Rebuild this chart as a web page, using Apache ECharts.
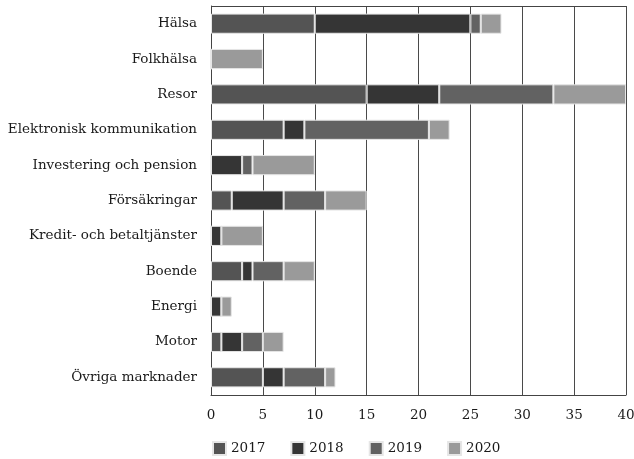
<!DOCTYPE html>
<html>
<head>
<meta charset="utf-8">
<script src="https://cdn.jsdelivr.net/npm/echarts@6/dist/echarts.min.js"></script>
<style>html,body{margin:0;padding:0;background:#fff}#c{width:634px;height:459px}</style>
</head>
<body>
<div id="c"></div>
<script>
const categories = ["Hälsa","Folkhälsa","Resor","Elektronisk kommunikation","Investering och pension","Försäkringar","Kredit- och betaltjänster","Boende","Energi","Motor","Övriga marknader"];
const years = ["2017","2018","2019","2020"];
const v2017 = [10,0,15,7,0,2,0,3,0,1,5];
const v2018 = [15,0,7,2,3,5,1,1,1,2,2];
const v2019 = [1,0,11,12,1,4,0,3,0,2,4];
const v2020 = [2,5,7,2,6,4,4,3,1,2,1];
const xTicks = [0,5,10,15,20,25,30,35,40];

const values = [v2017, v2018, v2019, v2020];
const colors = ["#545454","#353535","#626262","#9a9a9a"];
const font = "'DejaVu Serif', serif";

const chart = echarts.init(document.getElementById('c'));
chart.setOption({
  animation: false,
  textStyle: {fontFamily: font},
  grid: {left: 211, right: 8, top: 6, bottom: 64, containLabel: false, outerBoundsMode: 'none'},
  legend: {
    data: years, left: 207, top: 436, itemWidth: 13, itemHeight: 13, itemGap: 25,
    icon: 'rect',
    textStyle: {fontFamily: font, fontSize: 13.5, color: '#1a1a1a'}
  },
  xAxis: {
    type: 'value', min: xTicks[0], max: xTicks[xTicks.length-1], interval: 5,
    axisLine: {show: true, lineStyle: {color: '#444'}},
    axisTick: {show: false},
    axisLabel: {fontFamily: font, fontSize: 13.5, color: '#1a1a1a', margin: 13,
      formatter: v => xTicks.includes(v) ? String(v) : ''},
    splitLine: {show: true, lineStyle: {color: '#4a4a4a', width: 1}}
  },
  yAxis: {
    type: 'category', data: categories, inverse: true,
    axisLine: {show: true, lineStyle: {color: '#444'}},
    axisTick: {show: false},
    axisLabel: {fontFamily: font, fontSize: 13.5, color: '#1a1a1a', margin: 14},
    splitLine: {show: false}
  },
  series: years.map((y, i) => ({
    name: y, type: 'bar', stack: 'total', data: values[i],
    barWidth: '57%',
    itemStyle: {color: colors[i], borderColor: '#e6e6e6', borderWidth: 1}
  }))
});
const g = chart.getModel().getComponent('grid').coordinateSystem.getRect();
chart.setOption({graphic: [
  {type: 'line', shape: {x1: g.x, y1: g.y + 0.5, x2: g.x + g.width, y2: g.y + 0.5}, style: {stroke: '#444', lineWidth: 1}},
]});
</script>
</body>
</html>
